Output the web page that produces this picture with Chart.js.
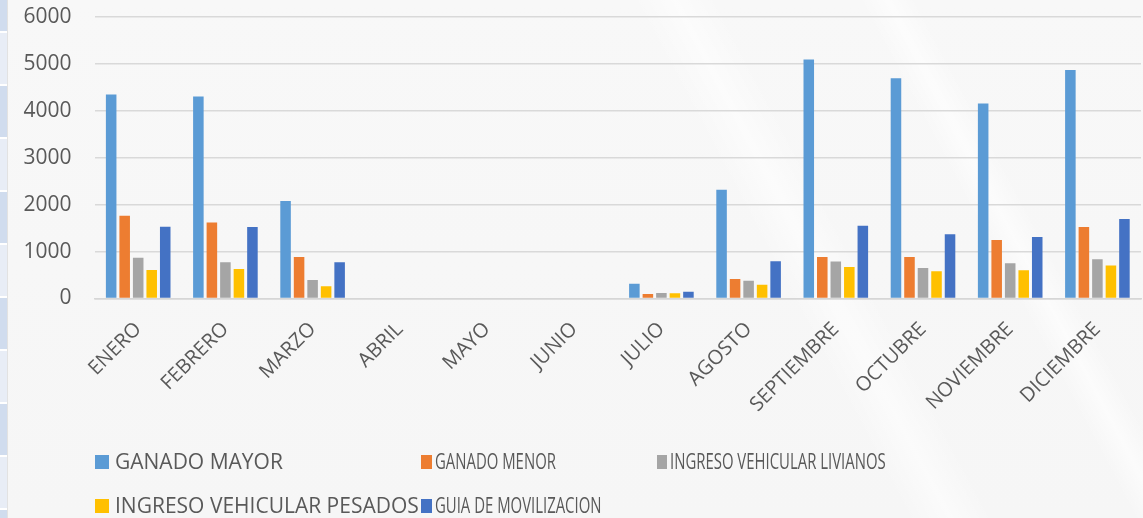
<!DOCTYPE html>
<html>
<head>
<meta charset="utf-8">
<script src="https://cdn.jsdelivr.net/npm/chart.js@4.4.1/dist/chart.umd.min.js"></script>
<style>
  html, body { margin: 0; padding: 0; }
  body {
    width: 1143px; height: 518px; overflow: hidden; position: relative;
    font-family: 'Open Sans', sans-serif;
    background:
      linear-gradient(62deg, rgba(255,255,255,0) 64%, rgba(255,255,255,0.55) 67%, rgba(255,255,255,0) 70%, rgba(255,255,255,0) 80%, rgba(255,255,255,0.6) 82%, rgba(255,255,255,0) 84%),
      linear-gradient(180deg, #f8f8f8 0%, #f6f6f6 100%);
  }
  #strip {
    position: absolute; left: 0; top: 0; width: 7px; height: 518px;
    background: repeating-linear-gradient(180deg,
      #e8edf6 0px, #e8edf6 31px, #ffffff 31px, #ffffff 33px,
      #d0dcee 33px, #d0dcee 84px, #ffffff 84px, #ffffff 86px,
      #e8edf6 86px, #e8edf6 137px, #ffffff 137px, #ffffff 139px);
    background-size: 7px 106px;
    background-position: 0 -53px;
    border-right: 1px solid #e2e2e2;
  }
  #chart { position: absolute; left: 0; top: -19px; }
  .lg-item { position: absolute; height: 21px; white-space: nowrap; }
  .lg-box { position: absolute; height: 14px; }
  .lg-text { position: absolute; font-size: 21px; line-height: 21px; color: #595959; transform-origin: 0 0; white-space: nowrap; }
</style>
</head>
<body>
<div id="strip"></div>
<canvas id="chart" width="1143" height="537"></canvas>
<div id="legend"></div>
<script>
const categories = ['ENERO','FEBRERO','MARZO','ABRIL','MAYO','JUNIO','JULIO','AGOSTO','SEPTIEMBRE','OCTUBRE','NOVIEMBRE','DICIEMBRE'];
const ganadoMayor   = [4340, 4300, 2075, 0, 0, 0, 315, 2315, 5085, 4690, 4150, 4865];
const ganadoMenor   = [1760, 1615,  885, 0, 0, 0,  95,  415,  885,  885, 1245, 1520];
const vehLivianos   = [ 865,  770,  395, 0, 0, 0, 115,  380,  785,  650,  750,  835];
const vehPesados    = [ 605,  630,  260, 0, 0, 0, 110,  290,  670,  580,  600,  700];
const guiaMoviliz   = [1525, 1520,  770, 0, 0, 0, 145,  795, 1550, 1370, 1310, 1690];
const seriesNames   = ['GANADO MAYOR','GANADO MENOR','INGRESO VEHICULAR LIVIANOS','INGRESO VEHICULAR PESADOS','GUIA DE MOVILIZACION'];
const seriesColors  = ['#5B9BD5','#ED7D31','#A5A5A5','#FFC000','#4472C4'];
const yTicks        = [0, 1000, 2000, 3000, 4000, 5000, 6000];

const seriesValues = [ganadoMayor, ganadoMenor, vehLivianos, vehPesados, guiaMoviliz];

Chart.defaults.font.family = "'Open Sans', sans-serif";
Chart.defaults.color = '#595959';

const chart = new Chart(document.getElementById('chart'), {
  type: 'bar',
  data: {
    labels: categories,
    datasets: seriesNames.map((name, i) => ({
      label: name,
      data: seriesValues[i],
      backgroundColor: seriesColors[i],
      borderWidth: 0,
      categoryPercentage: 0.775,
      barPercentage: 0.78
    }))
  },
  options: {
    responsive: false,
    animation: false,
    layout: { padding: { top: 0, right: 2, bottom: 0, left: 0 } },
    plugins: { legend: { display: false }, tooltip: { enabled: false } },
    scales: {
      x: {
        grid: { display: false, drawTicks: false },
        border: { display: true, color: '#d6d6d6', width: 1.5 },
        ticks: {
          font: { size: 20 }, color: '#595959',
          maxRotation: 45, minRotation: 45, padding: 19, autoSkip: false
        },
        afterFit: (scale) => { scale.height = 219.5; }
      },
      y: {
        min: yTicks[0], max: yTicks[yTicks.length - 1],
        afterBuildTicks: (scale) => { scale.ticks = yTicks.map(v => ({ value: v })); },
        grid: { color: '#d9d9d9', lineWidth: 1.5, drawTicks: false },
        border: { display: false },
        ticks: { font: { size: 21 }, color: '#595959', padding: 23, callback: (v) => String(v) },
        afterFit: (scale) => { scale.width = 94.6; }
      }
    }
  }
});

// HTML legend built from the series arrays (Excel-like fixed columns)
const legendLayout = [
  { x: 95,  y: 450.5, box: 14,   scale: 1.0 },
  { x: 421, y: 450.5, box: 10.7, scale: 0.71 },
  { x: 657, y: 450.5, box: 9.7,  scale: 0.71 },
  { x: 95,  y: 494.5, box: 14,   scale: 1.0 },
  { x: 421, y: 494.5, box: 10.7, scale: 0.71 }
];
const legendEl = document.getElementById('legend');
chart.data.datasets.forEach((ds, i) => {
  const L = legendLayout[i];
  const item = document.createElement('div');
  item.className = 'lg-item';
  item.style.left = L.x + 'px';
  item.style.top = L.y + 'px';
  const box = document.createElement('div');
  box.className = 'lg-box';
  box.style.left = '0px';
  box.style.top = '4.5px';
  box.style.width = L.box + 'px';
  box.style.background = ds.backgroundColor;
  const txt = document.createElement('span');
  txt.className = 'lg-text';
  txt.textContent = ds.label;
  txt.style.left = (L.box + (L.scale < 1 ? 3.5 : 6)) + 'px';
  txt.style.top = '0px';
  txt.style.transform = 'scaleX(' + L.scale + ')';
  item.appendChild(box);
  item.appendChild(txt);
  legendEl.appendChild(item);
});
</script>
</body>
</html>
